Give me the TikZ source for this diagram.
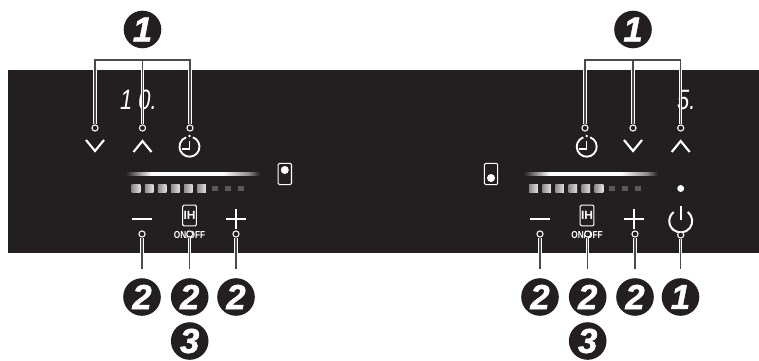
\documentclass[tikz,border=0pt]{standalone}
\usepackage{fontspec}
\setmainfont{Liberation Sans}
\newfontfamily\calloutfont{Liberation Sans}[BoldItalicFeatures={FakeBold=1.4}]
\usetikzlibrary{calc}
\definecolor{hbpanel}{HTML}{231F20}
\definecolor{hbline}{HTML}{4A4A4A}
\definecolor{hbseg}{HTML}{E2E2E2}
\pgfdeclarehorizontalshading{hbglow}{100bp}{
  color(0bp)=(hbpanel); color(25bp)=(hbpanel); color(28bp)=(hbpanel);
  color(37bp)=(white); color(62bp)=(white); color(71bp)=(black!45);
  color(75bp)=(hbpanel); color(100bp)=(hbpanel)}
\tikzset{
  callout/.style={circle, fill=hbpanel, text=white, minimum size=28.2pt, inner sep=0pt,
                  font=\fontsize{26}{26}\calloutfont\bfseries\itshape},
  tick/.style={circle, draw=white, fill=hbpanel, line width=0.8pt, minimum size=4.6pt, inner sep=0pt},
  lead/.style={draw=hbline, line width=0.9pt, preaction={draw=white, line width=2.5pt}},
  icon/.style={draw=white, line width=1.4pt},
  heavy/.style={draw=white, line width=2.2pt},
  slot/.style={rectangle, rounded corners=1pt, draw=white, line width=0.8pt, fill=hbpanel,
               minimum width=10pt, minimum height=16pt, inner sep=0pt},
  glow/.style={rectangle, shading=hbglow, minimum width=107pt, minimum height=2.6pt, inner sep=0pt},
  segon/.style={rectangle, left color=black!45, right color=hbseg, minimum width=6.4pt, minimum height=5.4pt, inner sep=0pt},
  segoff/.style={rectangle, fill=black!65, minimum width=4.4pt, minimum height=4.4pt, inner sep=0pt},
  digits/.style={text=white, font=\fontsize{21}{21}\selectfont\itshape, inner sep=0pt, xscale=.78, transform shape},
  ih/.style={text=white, font=\fontsize{9}{9}\selectfont\bfseries, inner sep=0pt},
  onoff/.style={text=white, font=\fontsize{7.6}{8}\selectfont\bfseries, inner sep=0pt, xscale=.82, transform shape},
}

\begin{document}
\begin{tikzpicture}[x=0.75pt,y=-0.75pt]
\useasboundingbox (0,0) rectangle (759,360);

% ---------- panel ----------
\fill[hbpanel] (7.5,70.5) rectangle (759,252.5);

% ---------- displays ----------
\node[digits,anchor=west] (dispL) at (120,100) {1 0.};
\node[digits,anchor=west] (dispR) at (677,100) {5.};

% ---------- sliders ----------
\node[glow] (glowL) at (188.5,174.2) {};
\node[glow] (glowR) at (586.5,174.2) {};
\foreach \sx/\sn in {132/L,529.5/R}{
  \foreach \i in {0,...,5}
    \node[segon] (seg\sn\i) at ({\sx+4+13.1*\i},188.5) {};
  \foreach \i in {6,7,8}
    \node[segoff] (seg\sn\i) at ({\sx+4+13.1*\i},188.5) {};
}

% ---------- zone buttons ----------
\node[slot] (zoneL) at (284.8,174) {};
\node[slot] (zoneR) at (491,174) {};
\fill[white] (zoneL.center)+(0,-4) circle (3pt);
\fill[white] (zoneR.center)+(0,4) circle (3pt);

% ---------- minus, IH, plus ----------
\foreach \mx/\ix/\px/\sn in {142/189.5/236/L,540/587/634/R}{
  \draw[heavy] (\mx-10,219) -- (\mx+10,219);
  \node[slot,minimum width=10.4pt,minimum height=15.6pt] (btn\sn) at (\ix,215.5) {};
  \node[ih] (ih\sn) at (\ix,215.5) {IH};
  \node[onoff] (oo\sn) at (\ix,234.5) {ON/OFF};
  \draw[heavy] (\px-10,219) -- (\px+10,219);
  \draw[heavy] (\px,209) -- (\px,229);
}

% ---------- arrows ----------
\foreach \ax in {95,633}
  \draw[icon,line width=1.6pt] (\ax-9,140) -- (\ax,151) -- (\ax+9,140);
\foreach \ax in {142.5,680.7}
  \draw[icon,line width=1.6pt] (\ax-9,152) -- (\ax,141) -- (\ax+9,152);

% ---------- timers ----------
\foreach \tx in {189.5,586.7}{
  \draw[icon] ($(\tx,146.7)+(70:7.5pt)$) arc[start angle=70,end angle=-250,radius=7.5pt];
  \fill[white] (\tx,136) circle (1pt);
  \draw[icon,line width=1pt] (\tx,141) -- (\tx,149) -- (\tx-8,149);
}

% ---------- power ----------
\fill[white] (680.7,188.5) circle (2.6pt);
\draw[icon,line width=1.5pt] ($(680.7,221)+(52:8.6pt)$) arc[start angle=52,end angle=-232,radius=8.6pt];
\draw[icon,line width=1.8pt] (680.7,206) -- (680.7,220);

% ---------- callouts ----------
\node[callout] (c1) at (142.5,29.5) {1};
\node[callout] (c2) at (633,29.5) {1};
\node[callout] (n1) at (142,297) {2};
\node[callout] (n2) at (189.7,297) {2};
\node[callout] (n3) at (236,297) {2};
\node[callout] (n4) at (189.7,341) {3};
\node[callout] (n5) at (540,297) {2};
\node[callout] (n6) at (587.7,297) {2};
\node[callout] (n7) at (635,297) {2};
\node[callout] (n8) at (680.5,297) {1};
\node[callout] (n9) at (587.7,341) {3};

% ---------- upper leads ----------
\node[tick] (t1) at (95,128) {};
\node[tick] (t2) at (142.5,128) {};
\node[tick] (t3) at (190,128) {};
\node[tick] (t4) at (585,128) {};
\node[tick] (t5) at (633,128) {};
\node[tick] (t6) at (680.7,128) {};
\coordinate (jL) at (142.5,60);
\coordinate (jR) at (633,60);
\draw[lead] (t1) |- (jL) -| (t3) (jL) -- (t2);
\draw[lead] (t4) |- (jR) -| (t6) (jR) -- (t5);

% ---------- lower leads ----------
\foreach \bx/\by/\bn in {142/234/1,189.7/234/2,236/234/3,540/234/5,587.7/234/6,635/234/7,680.7/235/8}{
  \node[tick] (b\bn) at (\bx,\by) {};
  \coordinate (e\bn) at (\bx,268.5);
  \draw[lead] (b\bn) -- (e\bn);
}
\end{tikzpicture}
\end{document}
